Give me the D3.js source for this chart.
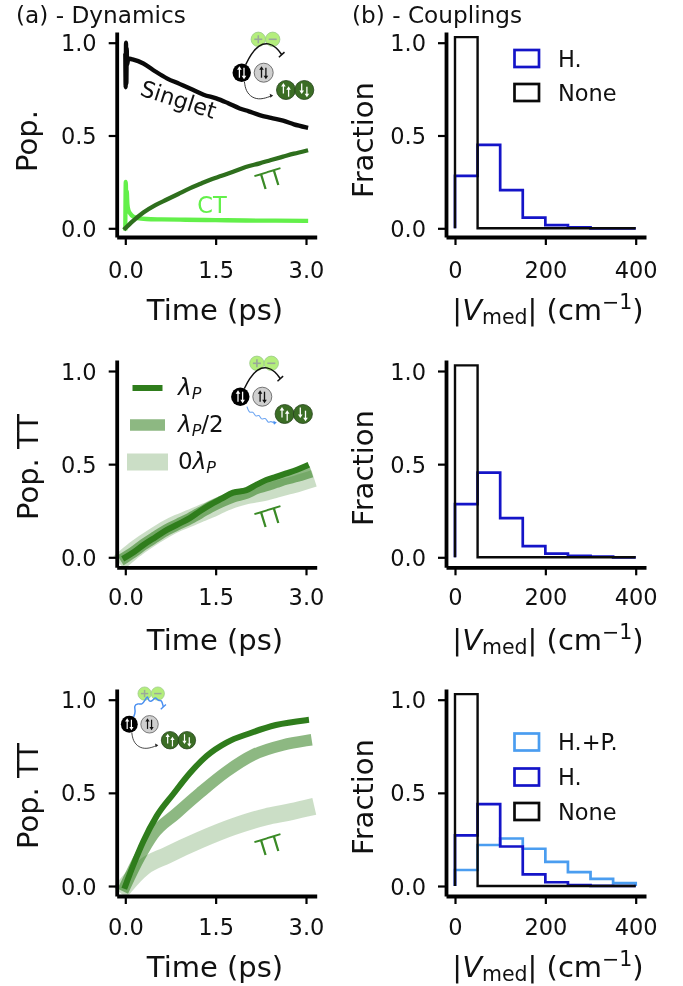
<!DOCTYPE html>
<html><head><meta charset="utf-8">
<script src="https://cdnjs.cloudflare.com/ajax/libs/d3/7.8.5/d3.min.js"></script>
<style>
html,body{margin:0;padding:0;background:#fff}
svg{display:block;filter:blur(0.55px)}
text{font-family:"DejaVu Sans",sans-serif;fill:#111}
</style></head><body><svg id="c" width="683" height="986"></svg>
<script>
// ---------- data ----------
const singletT=[0,.006,.012,.018,.024,.03,.05,.12,.3,.5,.69,.9,1.13,1.3,1.51,1.7,1.9,2.05,2.23,2.42,2.62,2.8,3];
const singletP=[.93,.76,1.0,.78,.97,.88,.915,.91,.888,.845,.808,.778,.745,.72,.70,.675,.646,.63,.61,.595,.58,.56,.544];
const ttT=[0,.13,.3,.5,.69,.88,1.07,1.25,1.4,1.6,1.79,2.0,2.23,2.42,2.62,2.8,3];
const ttP=[0,.04,.085,.125,.155,.185,.215,.24,.26,.283,.305,.33,.35,.368,.386,.402,.418];
const ctT=[0,.008,.016,.024,.035,.05,.08,.13,.2,.35,.6,1,1.5,2,2.5,3];
const ctP=[.0,.25,.16,.2,.13,.1,.08,.063,.055,.05,.048,.046,.044,.042,.041,.04];

const t2=[0,.15,.3,.5,.69,.88,1.07,1.25,1.4,1.6,1.79,2.01,2.18,2.34,2.5,2.67,2.85,3];
const p2full=[0,.03,.066,.108,.147,.178,.21,.25,.28,.315,.347,.36,.39,.415,.432,.45,.47,.49];
const p2half=[0,.032,.068,.11,.148,.178,.208,.24,.268,.3,.325,.345,.37,.385,.402,.42,.435,.45];
const p2zero=[0,.04,.075,.118,.155,.185,.21,.235,.255,.285,.31,.33,.34,.35,.365,.38,.395,.41];

const t3=[0,.13,.3,.52,.8,1.07,1.35,1.68,2.07,2.5,3];
const p3full=[0,.11,.24,.375,.495,.605,.698,.77,.82,.864,.89];
const t3m=[0,.24,.46,.85,1.24,1.68,2.12,2.62,3];
const p3half=[0,.157,.275,.39,.5,.614,.703,.757,.78];
const t3l=[0,.15,.3,.69,1.24,1.79,2.34,2.7,3];
const p3zero=[0,.055,.1,.165,.247,.318,.372,.395,.417];

const binEdges=[0,50,100,150,200,250,300,350,400];
const noneFrac=[1.03,0,0,0,0,0,0,0];
const hFrac1=[.283,.449,.206,.057,.017,.005,0,0];
const hFrac2=[.285,.455,.21,.06,.02,.008,.004,0];
const hFrac3=[.272,.44,.212,.062,.02,.005,.001,0];
const hpFrac3=[.086,.22,.255,.2,.13,.075,.038,.015];

const timeTicks=[0,1.5,3];
const popTicks=[0,.5,1];
const couplingTicks=[0,200,400];
const rowTitles=["(a) - Dynamics","(b) - Couplings"];
const lambdaLabels=[["","λ","P",""],["","λ","P","/2"],["0","λ","P",""]];

// ---------- layout ----------
const GREEN="#2f7d1c",LIME="#63f04a",BLUE="#1414c8",SKY="#4a9df0",BLACK="#0a0a0a";
const svg=d3.select("#c");
const rows=[{y1:42.7,y0:228.3,bottom:237,top:32,tick:278,lab:320},
            {y1:371,y0:557.3,bottom:567.3,top:360,tick:605,lab:650},
            {y1:699.7,y0:886,bottom:896,top:689,tick:935,lab:976.5}];
const LEFT={x0:125.3,x3:306,l:116.7,r:316.7},RIGHT={x0:455,x4:635.7,l:446,r:646};

function yScale(r){const u=(r.y0-r.y1);return d3.scaleLinear().domain([(r.y0-r.bottom)/u,(r.y0-r.top)/u]).range([r.bottom,r.top]);}
function xTime(){const u=(LEFT.x3-LEFT.x0)/3;return d3.scaleLinear().domain([(LEFT.l-LEFT.x0)/u,(LEFT.r-LEFT.x0)/u]).range([LEFT.l,LEFT.r]);}
function xCoup(){const u=(RIGHT.x4-RIGHT.x0)/400;return d3.scaleLinear().domain([(RIGHT.l-RIGHT.x0)/u,(RIGHT.r-RIGHT.x0)/u]).range([RIGHT.l,RIGHT.r]);}

function axes(x,y,r,xt,fmt,xl){
  const gx=svg.append("g").attr("transform",`translate(0,${r.bottom})`)
    .call(d3.axisBottom(x).tickValues(xt).tickFormat(fmt).tickSize(8).tickSizeOuter(0).tickPadding(0));
  const gy=svg.append("g").attr("transform",`translate(${xl},0)`)
    .call(d3.axisLeft(y).tickValues(popTicks).tickFormat(d3.format(".1f")).tickSize(8).tickSizeOuter(0).tickPadding(12));
  [gx,gy].forEach(g=>{
    g.select(".domain").attr("stroke","#000").attr("stroke-width",3.8);
    g.selectAll(".tick line").attr("stroke","#000").attr("stroke-width",2.2);
    g.selectAll(".tick text").style("font-size","22.5px").style("font-family","DejaVu Sans").attr("fill","#111");
  });
  gx.selectAll(".tick text").attr("y",null).attr("dy",null).attr("transform",`translate(0,${r.tick-r.bottom})`);
  gy.selectAll(".tick text").attr("dy","0.36em");
}
function trace(xs,ys,x,y,color,w,op,cap){
  svg.append("path").datum(xs.map((t,i)=>[t,ys[i]]))
    .attr("d",d3.line().curve(d3.curveMonotoneX).x(d=>x(d[0])).y(d=>y(d[1])))
    .attr("fill","none").attr("stroke",color).attr("stroke-width",w)
    .attr("stroke-opacity",op==null?1:op).attr("stroke-linejoin","round").attr("stroke-linecap",cap||"square");
}
function step(vals,x,y,color,w){
  const pts=[[binEdges[0],0]];
  vals.forEach((v,i)=>{pts.push([binEdges[i],v]);pts.push([binEdges[i+1],v]);});
  pts.push([binEdges[binEdges.length-1],0]);
  svg.append("path").datum(pts).attr("d",d3.line().x(d=>x(d[0])).y(d=>y(d[1])))
    .attr("fill","none").attr("stroke",color).attr("stroke-width",w||2.7).attr("stroke-linejoin","miter");
}
function label(x,y,s,size,rot,color,anchor){
  const t=svg.append("text").attr("transform",`translate(${x},${y}) rotate(${rot||0})`)
    .attr("text-anchor",anchor||"middle").style("font-size",size+"px").text(s);
  if(color)t.style("fill",color);return t;
}
function vmedLabel(xc,y){
  const t=svg.append("text").attr("x",xc).attr("y",y).attr("text-anchor","middle").style("font-size","29px");
  t.append("tspan").text("|");
  t.append("tspan").style("font-style","italic").text("V");
  t.append("tspan").attr("dy",4).style("font-size","20.5px").text("med");
  t.append("tspan").attr("dy",-4).text("| (cm");
  t.append("tspan").attr("dy",-11).style("font-size","20.5px").text("−1");
  t.append("tspan").attr("dy",11).text(")");
}
function histLegend(items,ys){
  items.forEach((it,i)=>{
    svg.append("rect").attr("x",514.5).attr("y",ys[i]-8.5).attr("width",24.5).attr("height",17)
      .attr("fill","none").attr("stroke",it[1]).attr("stroke-width",2.7);
    label(558,ys[i]+8,it[0],22.5,0,null,"start");
  });
}
function arrow(g,cx,cy,dir,color,len){
  const l=len||11,s=dir;
  g.append("line").attr("x1",cx).attr("x2",cx).attr("y1",cy+s*l/2).attr("y2",cy-s*l/2+s*2)
    .attr("stroke",color).attr("stroke-width",1.3);
  g.append("path").attr("d",`M${cx-2.3},${cy-s*l/2+s*3}L${cx},${cy-s*l/2-s*.5}L${cx+2.3},${cy-s*l/2+s*3}Z`).attr("fill",color);
}
function inset(cx,cy,k,upperBlue,lowerBlue){
  const g=svg.append("g").attr("transform",`translate(${cx},${cy}) scale(${k})`);
  const line=d3.line().curve(d3.curveBasis);
  const up=upperBlue
    ?[[4.7,-8],[7,-14],[5,-20],[9,-23],[14,-21],[17,-26],[20,-32],[21,-24],[26,-26],[28,-30],[32,-25],[35,-27],[37,-19]]
    :[[4,-8],[9,-18],[17,-28],[27,-30],[35,-25],[40,-18]];
  const low=lowerBlue
    ?[[6.7,10],[9,17],[13,14],[15,21],[19,17],[21,24],[25,20],[28,27],[30,24],[34,26.5]]
    :[[2.7,9],[4,18],[10,25],[19,27],[29,23.5]];
  [[16.6,-33.4,7.2,"+"],[31,-33.4,7.2,"-"]].forEach(c=>{
    g.append("circle").attr("cx",c[0]).attr("cy",c[1]).attr("r",c[2]).attr("fill","#b4ee7c").attr("stroke","#9bc98a").attr("stroke-width",.8);
    g.append("line").attr("x1",c[0]-4).attr("x2",c[0]+4).attr("y1",c[1]).attr("y2",c[1]).attr("stroke","#9aa89a").attr("stroke-width",1.6);
    if(c[3]==="+")g.append("line").attr("x1",c[0]).attr("x2",c[0]).attr("y1",c[1]-4).attr("y2",c[1]+4).attr("stroke","#9aa89a").attr("stroke-width",1.6);
  });
  g.append("path").attr("d",line(up)).attr("fill","none").attr("stroke",upperBlue?"#4a8ff0":"#111").attr("stroke-width",upperBlue?1.6:1.5);
  const e=up[up.length-1];
  g.append("line").attr("x1",e[0]-2.8).attr("y1",e[1]+2.6).attr("x2",e[0]+2.8).attr("y2",e[1]-2.6).attr("stroke",upperBlue?"#4a8ff0":"#111").attr("stroke-width",1.5);
  g.append("path").attr("d",line(low)).attr("fill","none").attr("stroke",lowerBlue?"#6ea6f2":"#222").attr("stroke-width",lowerBlue?1.1:.9);
  const f=low[low.length-1];
  g.append("path").attr("d",`M${f[0]+2.5},${f[1]-.8}L${f[0]-1},${f[1]-2.5}L${f[0]-.3},${f[1]+1.5}Z`).attr("fill",lowerBlue?"#4a8ff0":"#222");
  g.append("circle").attr("r",9.2).attr("fill","#000");
  arrow(g,-2.3,-.5,1,"#fff");arrow(g,2.3,.5,-1,"#fff");
  g.append("circle").attr("cx",22).attr("r",9.5).attr("fill","#cfcfcf").attr("stroke","#555").attr("stroke-width",.8);
  arrow(g,19.8,-.5,1,"#111");arrow(g,24.2,.5,-1,"#111");
  [[44.3,1],[62.6,-1]].forEach(c=>{
    g.append("circle").attr("cx",c[0]).attr("cy",17.3).attr("r",9.5).attr("fill","#3b6d25").attr("stroke","#24421a").attr("stroke-width",.8);
    arrow(g,c[0]-2.6,15.8,c[1],"#fff",10);arrow(g,c[0]+2.6,19,c[1],"#fff",10);
  });
}

// ---------- titles ----------
label(16,23,rowTitles[0],23.2,0,null,"start");
label(352,23,rowTitles[1],23.2,0,null,"start");

// ---------- left column ----------
const xT=xTime(),fmtT=d3.format(".1f");
const yL=rows.map(yScale);
trace(singletT,singletP,xT,yL[0],BLACK,4.3);
trace(ctT,ctP,xT,yL[0],LIME,4.3);
trace(ttT,ttP,xT,yL[0],"#2e6f1d",4.3);
axes(xT,yL[0],rows[0],timeTicks,fmtT,LEFT.l);
label(176,107,"Singlet",22.5,18,"#111");
label(272,187,"TT",22.5,-17,"#3a8a26");
label(212,213,"CT",22.5,0,LIME);
label(37,141,"Pop.",29,-90);
inset(241.7,72.7,1,false,false);

trace(t2,p2zero,xT,yL[1],GREEN,17,.25);
trace(t2,p2half,xT,yL[1],GREEN,11.5,.55);
trace(t2,p2full,xT,yL[1],GREEN,6);
axes(xT,yL[1],rows[1],timeTicks,fmtT,LEFT.l);
label(272,525,"TT",22.5,-17,"#3a8a26");
label(38,467,"Pop. TT",29,-90);
inset(240.3,396.7,1,false,true);
[[147.5,388,30,6,1],[147.5,425,35,11.5,.55],[147.5,462,41,17,.25]].forEach((s,i)=>{
  const sc=d3.scaleLinear().domain([0,1]).range([s[0]-s[2]/2,s[0]+s[2]/2]);
  svg.append("line").attr("x1",sc(0)).attr("x2",sc(1)).attr("y1",s[1]).attr("y2",s[1])
    .attr("stroke",GREEN).attr("stroke-width",s[3]).attr("stroke-opacity",s[4]);
  const L=lambdaLabels[i];
  const t=svg.append("text").attr("x",178).attr("y",s[1]+7).style("font-size","23px");
  if(L[0])t.append("tspan").text(L[0]);
  t.append("tspan").style("font-style","italic").text(L[1]);
  t.append("tspan").attr("dy",4).style("font-style","italic").style("font-size","16px").text(L[2]);
  if(L[3])t.append("tspan").attr("dy",-4).text(L[3]);
});

trace(t3l,p3zero,xT,yL[2],GREEN,17,.25);
trace(t3m,p3half,xT,yL[2],GREEN,11.5,.55);
trace(t3,p3full,xT,yL[2],GREEN,6);
axes(xT,yL[2],rows[2],timeTicks,fmtT,LEFT.l);
label(272,853,"TT",22.5,-17,"#3a8a26");
label(38,796,"Pop. TT",29,-90);
inset(129.3,724.3,.92,true,false);

rows.forEach(r=>label(215,r.lab,"Time (ps)",29,0));

// ---------- right column ----------
const xC=xCoup(),fmtC=d3.format("d");
step(hFrac1,xC,yL[0],BLUE);step(noneFrac,xC,yL[0],BLACK,2.4);
axes(xC,yL[0],rows[0],couplingTicks,fmtC,RIGHT.l);
histLegend([["H.",BLUE],["None",BLACK]],[58.5,92.5]);
step(hFrac2,xC,yL[1],BLUE);step(noneFrac,xC,yL[1],BLACK,2.4);
axes(xC,yL[1],rows[1],couplingTicks,fmtC,RIGHT.l);
step(hpFrac3,xC,yL[2],SKY);step(hFrac3,xC,yL[2],BLUE);step(noneFrac,xC,yL[2],BLACK,2.4);
axes(xC,yL[2],rows[2],couplingTicks,fmtC,RIGHT.l);
histLegend([["H.+P.",SKY],["H.",BLUE],["None",BLACK]],[742,777,811.5]);
[[140],[468],[797]].forEach(a=>label(373,a[0],"Fraction",29,-90));
rows.forEach(r=>vmedLabel(548,r.lab));
</script></body></html>
